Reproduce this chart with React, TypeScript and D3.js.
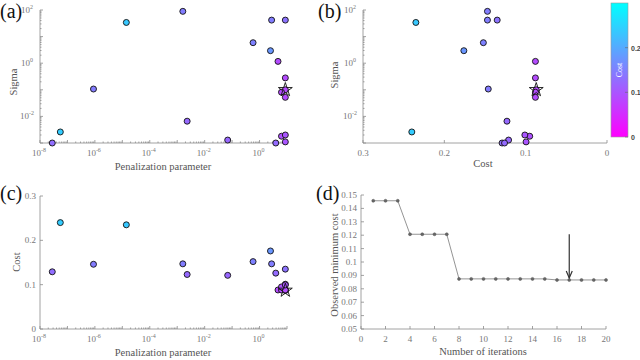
import React from 'react';
import * as d3 from 'd3';

const width = 640;
const height = 360;
const serif = 'Liberation Serif, DejaVu Serif, serif';

// one entry per objective evaluation (20 in all)
const penalization = [2.8e-8, 5.5e-8, 8.9e-7, 1.4e-5, 1.6e-3, 2.3e-3, 0.069, 0.58, 2.5, 2.75,
  3.9, 4.7, 8.7, 8.7, 8.7, 6.3, 8.7, 6.3, 8.7, 8.7];
const sigma = [1.0e-3, 2.6e-3, 0.107, 34, 89, 6.6e-3, 1.29e-3, 5.9, 2.95, 41.7,
  1.0e-3, 1.17, 41.7, 0.28, 0.1, 0.081, 0.052, 1.8e-3, 2.0e-3, 1.1e-3];
const cost = [0.129, 0.240, 0.146, 0.235, 0.147, 0.123, 0.121, 0.152, 0.176, 0.147,
  0.126, 0.088, 0.135, 0.088, 0.087, 0.088, 0.088, 0.095, 0.101, 0.0995];
const bestIndex = 14;

const iterations = [1, 2, 3, 4, 5, 6, 7, 8, 9, 10, 11, 12, 13, 14, 15, 16, 17, 18, 19, 20];
const minCost = [0.1457, 0.1457, 0.1457, 0.1207, 0.1207, 0.1207, 0.1207, 0.0874, 0.0874, 0.0874,
  0.0874, 0.0874, 0.0874, 0.0874, 0.0874, 0.0866, 0.0866, 0.0866, 0.0866, 0.0866];
const arrowIteration = 17;

const lambdaDecades = [-8, -7, -6, -5, -4, -3, -2, -1, 0, 1];
const lambdaLabels = [-8, -6, -4, -2, 0];
const sigmaDecades = [-3, -2, -1, 0, 1, 2];
const sigmaLabels = [-2, 0, 2];
const costTicks = [0, 0.1, 0.2, 0.3];
const costBarTicks = [0, 0.1, 0.2];
const iterTicks = [0, 2, 4, 6, 8, 10, 12, 14, 16, 18, 20];
const minCostTicks = [0.05, 0.06, 0.07, 0.08, 0.09, 0.1, 0.11, 0.12, 0.13, 0.14, 0.15];

const axisColor = '#8a8a8a';
const labelColor = '#777';
const titleColor = '#555';

const color = d3.scaleLinear<string>().domain([0, 0.3]).range(['#ff00ff', '#00ffff']);

const xLam = d3.scaleLog().domain([1e-8, 10]).range([40, 287]);
const ySig = d3.scaleLog().domain([1e-3, 100]).range([143, 10]);
const xCostB = d3.scaleLinear().domain([0.3, 0]).range([363, 607]);
const yCostC = d3.scaleLinear().domain([0, 0.3]).range([329, 196]);
const xIter = d3.scaleLinear().domain([0, 20]).range([361, 606]);
const yMin = d3.scaleLinear().domain([0.05, 0.15]).range([329, 195]);
const yBar = d3.scaleLinear().domain([0, 0.3]).range([137, 3]);

const minors = (decades: number[]) =>
  decades.slice(0, -1).flatMap(k => [2, 3, 4, 5, 6, 7, 8, 9].map(m => m * Math.pow(10, k)));

const Pow = ({ x, y, e, anchor }: any) => (
  <text x={x} y={y} textAnchor={anchor} style={{ fontFamily: serif }} fontSize={9} fill={labelColor}>
    10<tspan dy={-4} fontSize={6}>{e}</tspan>
  </text>
);

const fmt = (v: number) => String(+v.toFixed(2));

function LogBottom({ scale, y }: any) {
  const [a, b] = scale.range();
  return (
    <g stroke={axisColor} strokeWidth={0.8}>
      <line x1={a} x2={b} y1={y} y2={y} />
      {lambdaDecades.map(k => <line key={k} x1={scale(Math.pow(10, k))} x2={scale(Math.pow(10, k))} y1={y} y2={y - 3} />)}
      {minors(lambdaDecades).map((v, i) => <line key={'m' + i} x1={scale(v)} x2={scale(v)} y1={y} y2={y - 1.5} />)}
      <g stroke="none">
        {lambdaLabels.map(k => <Pow key={k} x={scale(Math.pow(10, k)) - 1} y={y + 13} e={k} anchor="middle" />)}
      </g>
    </g>
  );
}

function LogLeft({ scale, x }: any) {
  const [a, b] = scale.range();
  return (
    <g stroke={axisColor} strokeWidth={0.8}>
      <line x1={x} x2={x} y1={a} y2={b} />
      {sigmaDecades.map(k => <line key={k} x1={x} x2={x + 3} y1={scale(Math.pow(10, k))} y2={scale(Math.pow(10, k))} />)}
      {minors(sigmaDecades).map((v, i) => <line key={'m' + i} x1={x} x2={x + 1.5} y1={scale(v)} y2={scale(v)} />)}
      <g stroke="none">
        {sigmaLabels.map(k => <Pow key={k} x={x - 13} y={scale(Math.pow(10, k)) + 3} e={k} anchor="middle" />)}
      </g>
    </g>
  );
}

function LinBottom({ scale, y, ticks }: any) {
  const [a, b] = scale.range();
  return (
    <g stroke={axisColor} strokeWidth={0.8}>
      <line x1={a} x2={b} y1={y} y2={y} />
      {ticks.map((t: number) => <line key={t} x1={scale(t)} x2={scale(t)} y1={y} y2={y - 3} />)}
      {ticks.map((t: number) => (
        <text key={'l' + t} x={scale(t)} y={y + 13} stroke="none" textAnchor="middle" style={{ fontFamily: serif }} fontSize={9} fill={labelColor}>{fmt(t)}</text>
      ))}
    </g>
  );
}

function LinLeft({ scale, x, ticks }: any) {
  const [a, b] = scale.range();
  return (
    <g stroke={axisColor} strokeWidth={0.8}>
      <line x1={x} x2={x} y1={a} y2={b} />
      {ticks.map((t: number) => <line key={t} x1={x} x2={x + 3} y1={scale(t)} y2={scale(t)} />)}
      {ticks.map((t: number) => (
        <text key={'l' + t} x={x - 4} y={scale(t) + 3} stroke="none" textAnchor="end" style={{ fontFamily: serif }} fontSize={9} fill={labelColor}>{fmt(t)}</text>
      ))}
    </g>
  );
}

const Title = ({ x, y, rotate, children }: any) => (
  <text x={x} y={y} transform={rotate ? `rotate(-90, ${x}, ${y})` : undefined} textAnchor="middle"
    style={{ fontFamily: serif }} fontSize={10.5} fill={titleColor}>{children}</text>
);

const Panel = ({ x, y, children }: any) => (
  <text x={x} y={y} style={{ fontFamily: serif }} fontSize={20} fill="#111">{children}</text>
);

const starPath = d3.symbol().type(d3.symbolStar).size(60)();

function Scatter({ xs, ys, sx, sy }: any) {
  return (
    <g>
      {xs.map((v: number, i: number) => (
        <circle key={i} cx={sx(v)} cy={sy(ys[i])} r={3} fill={color(cost[i])} stroke="#111" strokeWidth={0.9} />
      ))}
      <path d={starPath || ''} transform={`translate(${sx(xs[bestIndex])},${sy(ys[bestIndex])})`}
        fill="none" stroke="#111" strokeWidth={0.9} />
    </g>
  );
}

export default function App() {
  const line = d3.line<number>().x((d, i) => xIter(iterations[i])).y(d => yMin(d));
  const ax = xIter(arrowIteration);
  return (
    <svg width={width} height={height} style={{ position: 'absolute', left: 0, top: 0, background: '#fff' }}>
      <defs>
        <linearGradient id="cool" x1="0" y1="1" x2="0" y2="0">
          <stop offset="0%" stopColor={color(0)} />
          <stop offset="100%" stopColor={color(0.3)} />
        </linearGradient>
      </defs>

      {/* (a) sigma vs penalization */}
      <LogBottom scale={xLam} y={143} />
      <LogLeft scale={ySig} x={40} />
      <Scatter xs={penalization} ys={sigma} sx={xLam} sy={ySig} />
      <Title x={163} y={170}>Penalization parameter</Title>
      <Title x={17} y={82} rotate>Sigma</Title>
      <Panel x={0} y={18}>(a)</Panel>

      {/* (b) sigma vs cost */}
      <LinBottom scale={xCostB} y={143} ticks={costTicks} />
      <LogLeft scale={ySig} x={363} />
      <Scatter xs={cost} ys={sigma} sx={xCostB} sy={ySig} />
      <Title x={483} y={167}>Cost</Title>
      <Title x={338} y={75} rotate>Sigma</Title>
      <Panel x={318} y={18}>(b)</Panel>

      {/* colour bar */}
      <rect x={611} y={3} width={17} height={134} fill="url(#cool)" stroke="#999" strokeWidth={0.6} />
      {costBarTicks.map(t => (
        <g key={t}>
          <line x1={625} x2={628} y1={yBar(t)} y2={yBar(t)} stroke="#666" strokeWidth={0.6} />
          <text x={631} y={yBar(t) + 3} style={{ fontFamily: 'Liberation Sans, sans-serif' }} fontSize={7} fontWeight="bold" fill="#444">{fmt(t)}</text>
        </g>
      ))}
      <text x={622} y={70} transform="rotate(-90, 622, 70)" textAnchor="middle" style={{ fontFamily: serif }} fontSize={8} fill="#fff">Cost</text>

      {/* (c) cost vs penalization */}
      <LogBottom scale={xLam} y={329} />
      <LinLeft scale={yCostC} x={40} ticks={costTicks} />
      <Scatter xs={penalization} ys={cost} sx={xLam} sy={yCostC} />
      <Title x={163} y={356}>Penalization parameter</Title>
      <Title x={20} y={262} rotate>Cost</Title>
      <Panel x={0} y={200}>(c)</Panel>

      {/* (d) observed minimum cost */}
      <LinBottom scale={xIter} y={329} ticks={iterTicks} />
      <LinLeft scale={yMin} x={361} ticks={minCostTicks} />
      <path d={line(minCost) || ''} fill="none" stroke="#888" strokeWidth={0.9} />
      {minCost.map((v, i) => (
        <circle key={i} cx={xIter(iterations[i])} cy={yMin(v)} r={1.5} fill="#666" stroke="#555" strokeWidth={0.5} />
      ))}
      <line x1={ax} x2={ax} y1={yMin(0.1207)} y2={yMin(0.0866) - 2} stroke="#333" strokeWidth={1.2} />
      <path d={`M${ax - 3},${yMin(0.0866) - 9} L${ax},${yMin(0.0866) - 2} L${ax + 3},${yMin(0.0866) - 9}`} fill="none" stroke="#333" strokeWidth={1.2} />
      <Title x={483} y={355}>Number of iterations</Title>
      <Title x={338} y={265} rotate>Observed minimum cost</Title>
      <Panel x={316} y={200}>(d)</Panel>
    </svg>
  );
}
